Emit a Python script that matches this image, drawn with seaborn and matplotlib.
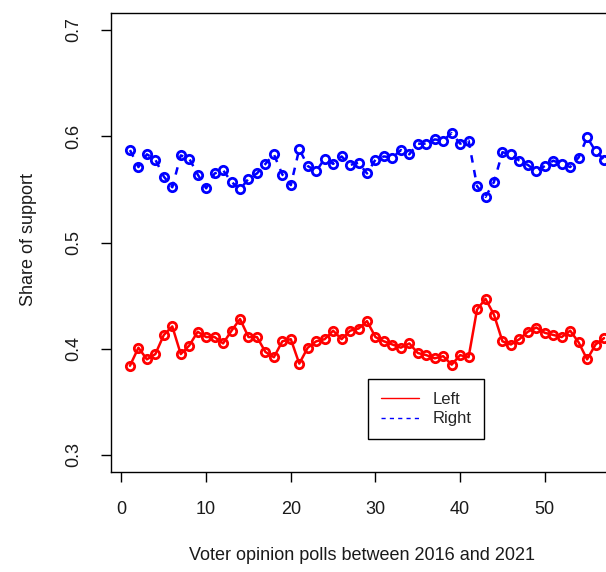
import numpy as np
import pandas as pd
import matplotlib
matplotlib.use("Agg")
import matplotlib.pyplot as plt
from matplotlib.lines import Line2D
import seaborn as sns

polls = list(range(1, 58))
left_share = [0.384, 0.401, 0.390, 0.395, 0.413, 0.421, 0.395, 0.403, 0.416, 0.411,
              0.411, 0.405, 0.417, 0.428, 0.411, 0.411, 0.397, 0.392, 0.407, 0.409,
              0.386, 0.401, 0.407, 0.409, 0.417, 0.409, 0.417, 0.419, 0.426, 0.411,
              0.407, 0.404, 0.401, 0.405, 0.396, 0.394, 0.391, 0.393, 0.385, 0.394,
              0.392, 0.437, 0.447, 0.432, 0.407, 0.404, 0.409, 0.416, 0.420, 0.415,
              0.413, 0.411, 0.417, 0.406, 0.390, 0.404, 0.410]
right_share = [0.587, 0.571, 0.583, 0.578, 0.562, 0.552, 0.582, 0.579, 0.564, 0.551,
               0.565, 0.568, 0.557, 0.550, 0.560, 0.565, 0.574, 0.583, 0.564, 0.554,
               0.588, 0.572, 0.567, 0.579, 0.574, 0.581, 0.573, 0.575, 0.565, 0.578,
               0.581, 0.580, 0.587, 0.583, 0.593, 0.593, 0.597, 0.596, 0.603, 0.593,
               0.596, 0.553, 0.543, 0.557, 0.585, 0.583, 0.577, 0.573, 0.567, 0.572,
               0.577, 0.574, 0.571, 0.580, 0.599, 0.586, 0.578]
y_ticks = [0.3, 0.4, 0.5, 0.6, 0.7]
x_ticks = [0, 10, 20, 30, 40, 50]
series_names = ["Left", "Right"]

df = pd.DataFrame({"poll": polls, "Left": left_share, "Right": right_share})

sns.set_theme(style="white")
plt.rcParams["font.family"] = ["Liberation Sans", "DejaVu Sans"]

W, H = 606, 572
fig = plt.figure(figsize=(W / 100, H / 100), dpi=100)
ax_l, ax_r, ax_t, ax_b = 111, 623, 13, 472
ax = fig.add_axes([ax_l / W, (H - ax_b) / H, (ax_r - ax_l) / W, (ax_b - ax_t) / H])

sns.lineplot(data=df, x="poll", y="Left", ax=ax, color="#ff0000", linewidth=1.8,
             marker="o", markersize=6, markerfacecolor="none",
             markeredgecolor="#ff0000", markeredgewidth=2)
sns.lineplot(data=df, x="poll", y="Right", ax=ax, color="#0000ff", linewidth=1.8,
             linestyle=(0, (3, 3)), marker="o", markersize=6, markerfacecolor="none",
             markeredgecolor="#0000ff", markeredgewidth=2)

pad_x = 0.04 * (max(polls) - min(polls))
ax.set_xlim(min(polls) - pad_x, max(polls) + pad_x)
pad_y = 0.04 * (y_ticks[-1] - y_ticks[0])
ax.set_ylim(y_ticks[0] - pad_y, y_ticks[-1] + pad_y)

ax.set_xticks(x_ticks)
ax.set_xticklabels([str(t) for t in x_ticks], fontsize=13)
ax.set_yticks(y_ticks)
ax.set_yticklabels([f"{t:.1f}" for t in y_ticks], fontsize=13, rotation=90, va="center")
ax.tick_params(axis="x", direction="out", length=7, width=1, color="black",
               bottom=True, pad=14, labelcolor="#1a1a1a")
ax.tick_params(axis="y", direction="out", length=7, width=1, color="black",
               left=True, pad=14, labelcolor="#1a1a1a")

for s in ax.spines.values():
    s.set_color("black")
    s.set_linewidth(1)

ax.set_xlabel("Voter opinion polls between 2016 and 2021", fontsize=13, color="#1a1a1a")
ax.set_ylabel("Share of support", fontsize=13, color="#1a1a1a")
ax.xaxis.set_label_coords((362 - ax_l) / (ax_r - ax_l), -(547 - ax_b) / (ax_b - ax_t))
ax.yaxis.set_label_coords(-(111 - 37) / (ax_r - ax_l), (ax_b - 240) / (ax_b - ax_t))

handles = [Line2D([0], [0], color="#ff0000", linewidth=1),
           Line2D([0], [0], color="#0000ff", linewidth=1, linestyle=(0, (3, 3)))]
leg = fig.legend(handles, series_names, loc="upper left",
                 bbox_to_anchor=(368 / W, 1 - 379 / H), frameon=True, fancybox=False,
                 fontsize=12, handlelength=2.3, borderpad=0.75, labelspacing=0.3,
                 handletextpad=0.8, borderaxespad=0)
leg.get_frame().set_edgecolor("black")
leg.get_frame().set_linewidth(1)
leg.get_frame().set_alpha(1)

fig.savefig("out.png", dpi=100)
